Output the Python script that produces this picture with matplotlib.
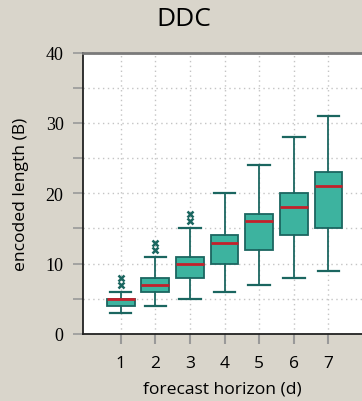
import matplotlib
matplotlib.use("Agg")
import matplotlib.pyplot as plt

# box statistics, horizon 1..7 days
horizon = [1, 2, 3, 4, 5, 6, 7]
whis_lo = [3, 4, 5, 6, 7, 8, 9]
q1 = [4, 6, 8, 10, 12, 14, 15]
median = [5, 7, 10, 13, 16, 18, 21]
q3 = [5, 8, 11, 14, 17, 20, 23]
whis_hi = [6, 11, 15, 20, 24, 28, 31]
fliers = [[7, 8], [12, 13], [16, 17], [], [], [], []]

bg = "#d9d5cb"
teal = "#3db39f"
dark = "#1b6660"
red = "#c4202b"

stats = []
for i in range(len(horizon)):
    stats.append({"whislo": whis_lo[i], "q1": q1[i], "med": median[i],
                  "q3": q3[i], "whishi": whis_hi[i], "fliers": fliers[i]})

fig = plt.figure(figsize=(3.62, 4.02), dpi=100, facecolor=bg)
ax = fig.add_axes([0.230, 0.1667, 0.77, 0.700])

ax.bxp(stats, positions=horizon, widths=0.8, capwidths=0.62, patch_artist=True,
       boxprops=dict(facecolor=teal, edgecolor=dark, linewidth=1.3),
       medianprops=dict(color=red, linewidth=2),
       whiskerprops=dict(color=dark, linewidth=1.3),
       capprops=dict(color=dark, linewidth=1.6),
       flierprops=dict(marker="x", markersize=4, markeredgecolor=dark,
                       markeredgewidth=1.8))

ax.set_xlim(-0.08, 7.97)
ax.set_ylim(0, 40)
ax.set_xticks(horizon)
ax.set_yticks([0, 10, 20, 30, 40])
ax.set_yticks([5, 15, 25, 35], minor=True)
ax.grid(True, which="both", linestyle=(0, (1, 2.5)), color="#c4c4c4", linewidth=1)
ax.set_axisbelow(True)

ax.tick_params(axis="x", direction="out", length=7, width=1.5, color="#999999",
               pad=8, labelsize=12.5, labelfontfamily="Open Sans")
ax.tick_params(axis="y", which="both", direction="out", length=7.2, width=1.2,
               color="#999999", pad=7, labelsize=13,
               labelfontfamily="Liberation Serif")

ax.spines["right"].set_visible(False)
ax.spines["top"].set_color("#7a7a7a")
ax.spines["top"].set_linewidth(2)
ax.spines["left"].set_color("#222222")
ax.spines["left"].set_linewidth(1.3)
ax.spines["bottom"].set_color("#222222")
ax.spines["bottom"].set_linewidth(1.3)

ax.set_xlabel("forecast horizon (d)", fontfamily="Open Sans", fontsize=12.6, labelpad=7)
ax.set_ylabel("encoded length (B)", fontfamily="Open Sans", fontsize=12.6, labelpad=12)
fig.text(184 / 362, 1 - 19 / 402, "DDC", ha="center", va="center",
         fontfamily="Open Sans", fontsize=19)

fig.savefig("out.png", dpi=100, facecolor=bg)
